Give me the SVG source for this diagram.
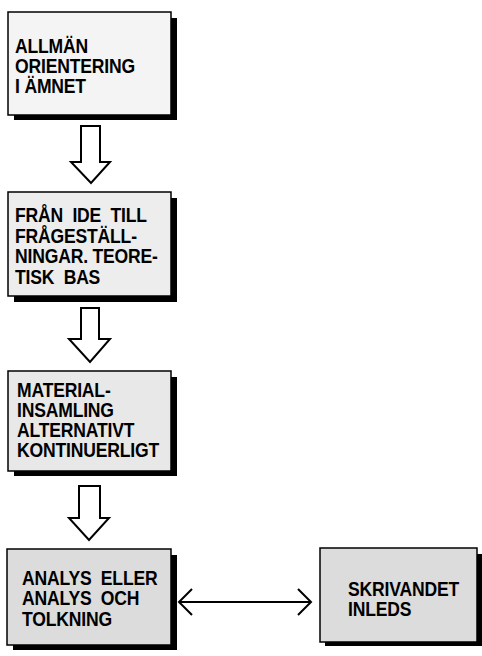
<svg xmlns="http://www.w3.org/2000/svg" width="482" height="656" viewBox="0 0 482 656">
<style>
.box{stroke:#000;stroke-width:1.5}
.sh{fill:#000}
.t{font-family:"Liberation Sans",Arial,sans-serif;font-weight:bold;font-size:19.5px;letter-spacing:-0.2px;fill:#000;white-space:pre}
.arr{fill:#fff;stroke:#000;stroke-width:2;stroke-linejoin:miter}
.con{fill:none;stroke:#000;stroke-width:2}
</style>
<rect width="482" height="656" fill="#fff"/>
<g id="n1">
<rect class="sh" x="14" y="18" width="163" height="102"/>
<rect class="box" x="8" y="12" width="163" height="103" fill="#f4f4f4"/>
<g transform="translate(15,0) scale(0.9,1)">
<text class="t" x="0" y="53">ALLMÄN</text>
<text class="t" x="0" y="73">ORIENTERING</text>
<text class="t" x="0" y="93">I ÄMNET</text>
</g>
</g>
<g id="n2">
<rect class="sh" x="14" y="198" width="163" height="104"/>
<rect class="box" x="8" y="192" width="163" height="104" fill="#ededed"/>
<g transform="translate(15,0) scale(0.9,1)">
<text class="t" x="0" y="222" xml:space="preserve">FRÅN  IDE  TILL</text>
<text class="t" x="0" y="243">FRÅGESTÄLL-</text>
<text class="t" x="0" y="263">NINGAR. TEORE-</text>
<text class="t" x="0" y="284" xml:space="preserve">TISK  BAS</text>
</g>
</g>
<g id="n3">
<rect class="sh" x="14" y="377" width="163" height="99"/>
<rect class="box" x="8" y="371" width="163" height="100" fill="#e8e8e8"/>
<g transform="translate(17,0) scale(0.9,1)">
<text class="t" x="0" y="397">MATERIAL-</text>
<text class="t" x="0" y="417">INSAMLING</text>
<text class="t" x="0" y="437">ALTERNATIVT</text>
<text class="t" x="0" y="457">KONTINUERLIGT</text>
</g>
</g>
<g id="n4">
<rect class="sh" x="13" y="555" width="164" height="95"/>
<rect class="box" x="7" y="549" width="164" height="96" fill="#dcdcdc"/>
<g transform="translate(22,0) scale(0.9,1)">
<text class="t" x="0" y="585" xml:space="preserve">ANALYS  ELLER</text>
<text class="t" x="0" y="605" xml:space="preserve">ANALYS  OCH</text>
<text class="t" x="0" y="626">TOLKNING</text>
</g>
</g>
<g id="n5">
<rect class="sh" x="325" y="554" width="160" height="92"/>
<rect class="box" x="320" y="548" width="157" height="94" fill="#dcdcdc"/>
<g transform="translate(348,0) scale(0.9,1)">
<text class="t" x="0" y="596">SKRIVANDET</text>
<text class="t" x="0" y="616">INLEDS</text>
</g>
</g>
<g id="connectors">
<path class="arr" d="M81,126 H100 V162 H110 L91,183 L71,162 H81 Z"/>
<path class="arr" d="M81,308 H99 V339 H110 L90,362 L69,339 H81 Z"/>
<path class="arr" d="M79,486 H100 V518 H109 L89,540 L69,518 H79 Z"/>
<path class="con" d="M179,602 H311 M192,589 L179,602 L192,615 M298,589 L311,602 L298,615"/>
</g>
</svg>
